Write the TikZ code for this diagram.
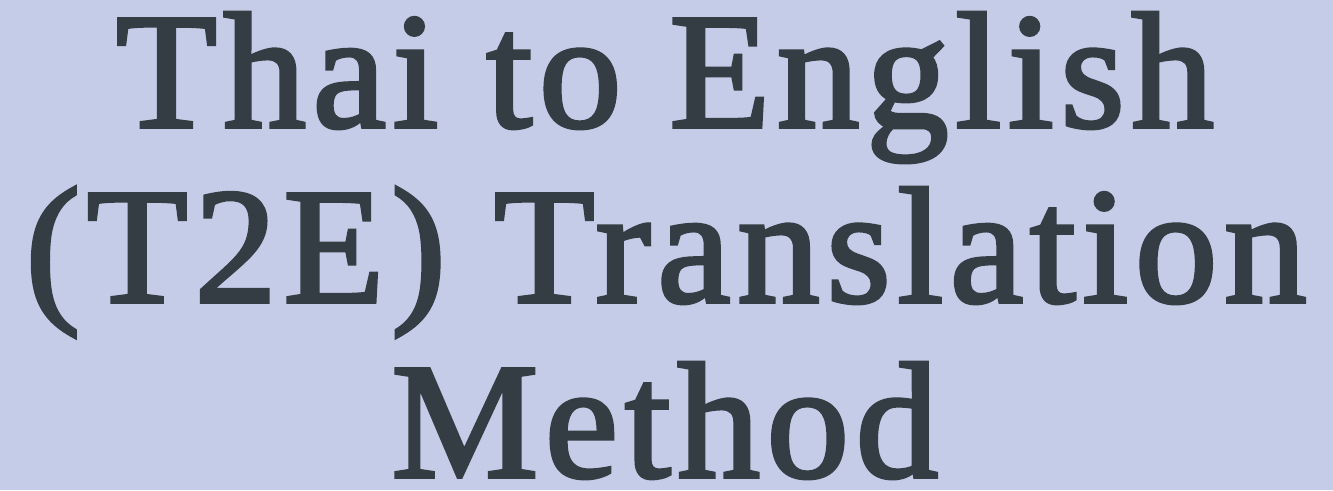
\documentclass[tikz,border=0pt]{standalone}
\usepackage{fontspec}
\setmainfont{Liberation Serif}
\newfontfamily\titlefont[FakeBold=2.2, LetterSpace=4]{Liberation Serif}
\usepackage{tikz}
\usetikzlibrary{positioning}
\definecolor{titlebg}{HTML}{C5CCE8}
\definecolor{titleink}{HTML}{343D43}

\begin{document}
\begin{tikzpicture}[
    titleline/.style={anchor=base, text=titleink, inner sep=0pt,
      font=\titlefont\fontsize{47pt}{47pt}\selectfont}
  ]
    % Hintergrund
    \fill[titlebg] (0,0) rectangle (13.33,4.90);
    \useasboundingbox (0,0) rectangle (13.33,4.90);
    % Titelzeilen
    \node[titleline] (lineone) at (6.65,3.63) {Thai to English};
    \node[titleline] (linetwo) at (6.66,1.88) {(T2E) Translation};
    \node[titleline] (linethree) at (6.65,0.13) {Method};
\end{tikzpicture}
\end{document}
